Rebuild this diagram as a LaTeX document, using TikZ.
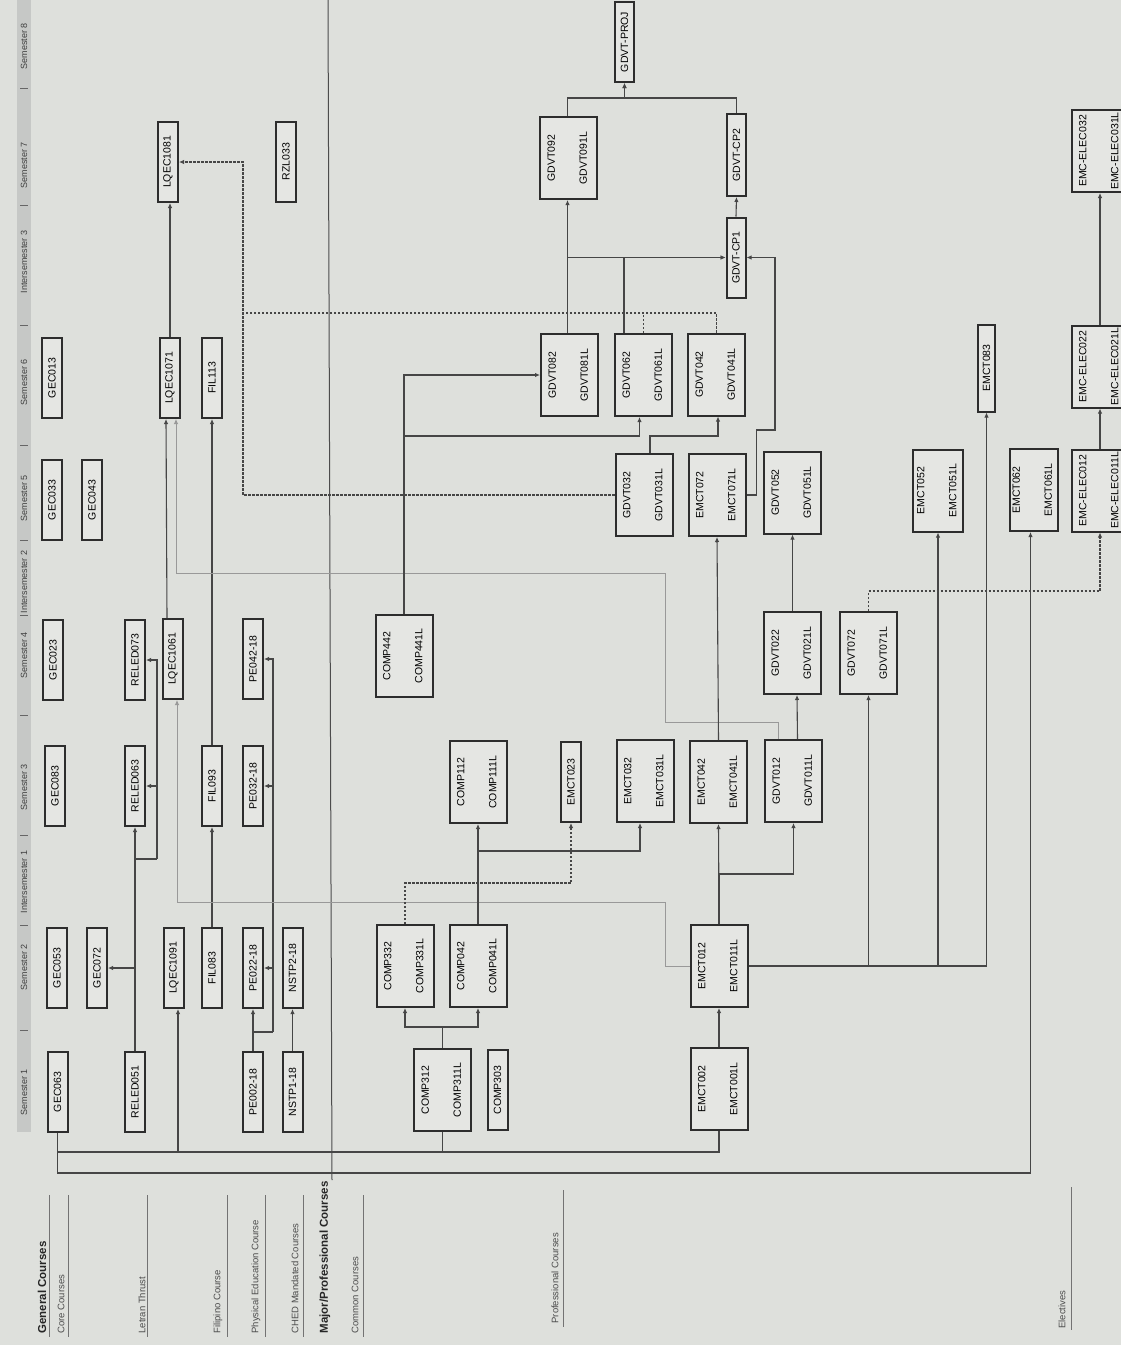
\documentclass[tikz,border=0pt]{standalone}
\usepackage{fontspec}
\setmainfont{Liberation Sans}
\usepackage{graphicx}
\usetikzlibrary{arrows.meta}

\definecolor{paper}{RGB}{222,224,220}
\definecolor{boxfill}{RGB}{229,230,227}
\definecolor{boxline}{RGB}{45,45,45}
\definecolor{wire}{RGB}{70,70,70}
\definecolor{band}{RGB}{198,200,198}

\newcommand{\onecode}[1]{\rotatebox{90}{#1}}
\newcommand{\twocode}[2]{\rotatebox{90}{\begin{tabular}{@{}c@{}}#1\\[20pt]#2\end{tabular}}}

\begin{document}
\begin{tikzpicture}[x=1pt, y=-1pt,
  course/.style={draw=boxline, line width=2pt, fill=boxfill, inner sep=0pt,
                 minimum width=20pt, minimum height=80pt,
                 font=\fontsize{10.5}{12}\selectfont},
  labcourse/.style={course, minimum width=57pt, minimum height=82pt},
  semlabel/.style={rotate=90, font=\fontsize{9}{10}\selectfont, text=black!75},
  catlabel/.style={rotate=90, anchor=west, font=\fontsize{9.5}{11}\selectfont, text=black!70},
  cathead/.style={catlabel, font=\bfseries\fontsize{11.5}{13}\selectfont, text=black!85},
  link/.style={draw=wire, line width=1.1pt},
  arr/.style={link, -{Latex[length=5pt,width=4.5pt]}},
  dasharr/.style={arr, dash pattern=on 2.5pt off 1.5pt},
  dashlink/.style={link, dash pattern=on 2.5pt off 1.5pt},
  faintarr/.style={arr, draw=wire!55, line width=0.8pt},
  rule/.style={draw=black!55, line width=0.8pt}
]
\fill[paper] (0,0) rectangle (1121,1345);
\useasboundingbox (0,0) rectangle (1121,1345);

% semester header
\fill[band] (17,0) rectangle (31,1132);
\node[semlabel] (hs1) at (24,1092) {Semester 1};
\node[semlabel] (hs2) at (24,967) {Semester 2};
\node[semlabel] (hi1) at (24,882) {Intersemester 1};
\node[semlabel] (hs3) at (24,787) {Semester 3};
\node[semlabel] (hs4) at (24,655) {Semester 4};
\node[semlabel] (hi2) at (24,582) {Intersemester 2};
\node[semlabel] (hs5) at (24,498) {Semester 5};
\node[semlabel] (hs6) at (24,382) {Semester 6};
\node[semlabel] (hi3) at (24,262) {Intersemester 3};
\node[semlabel] (hs7) at (24,165) {Semester 7};
\node[semlabel] (hs8) at (24,46) {Semester 8};
\foreach \y in {1030,925,835,715,615,540,445,325,205,88}
  \draw[black!60, line width=0.9pt] (20,\y) -- (28,\y);

% row labels
\node[cathead]  (lgen)  at (42,1337)  {General Courses};
\node[catlabel] (lcore) at (61,1337)  {Core Courses};
\node[catlabel] (llet)  at (142,1337) {Letran Thrust};
\node[catlabel] (lfil)  at (218,1337) {Filipino Course};
\node[catlabel] (lpe)   at (256,1337) {Physical Education Course};
\node[catlabel] (lched) at (295,1337) {CHED Mandated Courses};
\node[cathead]  (lmaj)  at (325,1337) {Major/Professional Courses};
\node[catlabel] (lcom)  at (355,1337) {Common Courses};
\node[catlabel] (lpro)  at (555,1327) {Professional Courses};
\node[catlabel] (lele)  at (1062,1332) {Electives};
\foreach \x in {49,68,147,227,265,303,363}
  \draw[rule] (\x,1195) -- (\x,1337);
\draw[rule] (563,1190) -- (563,1327);
\draw[rule] (1071,1187) -- (1071,1330);
\draw[black!70, line width=1pt] (328,0) -- (332,1180);

% general courses
\node[course] (gecA)   at (57.5,1092) {\onecode{GEC063}};
\node[course] (reledA) at (135,1092)  {\onecode{RELED051}};
\node[course] (pe002)  at (253,1092)  {\onecode{PE002-18}};
\node[course] (nstp1)  at (292.5,1092) {\onecode{NSTP1-18}};
\node[course] (gecB)   at (57,968)    {\onecode{GEC053}};
\node[course] (gecC)   at (97,968)    {\onecode{GEC072}};
\node[course] (lqecA)  at (174,968)   {\onecode{LQEC1091}};
\node[course] (filA)   at (212,968)   {\onecode{FIL083}};
\node[course] (pe022)  at (253,968)   {\onecode{PE022-18}};
\node[course] (nstp2)  at (292.5,968) {\onecode{NSTP2-18}};
\node[course] (gecD)   at (55,786)    {\onecode{GEC083}};
\node[course] (reledB) at (135,786)   {\onecode{RELED063}};
\node[course] (filB)   at (212,786)   {\onecode{FIL093}};
\node[course] (pe032)  at (253,786)   {\onecode{PE032-18}};
\node[course] (gecE)   at (53,660)    {\onecode{GEC023}};
\node[course] (reledC) at (135,660)   {\onecode{RELED073}};
\node[course] (lqecB)  at (173,659)   {\onecode{LQEC1061}};
\node[course] (pe042)  at (253,659)   {\onecode{PE042-18}};
\node[course] (gecF)   at (52,500)    {\onecode{GEC033}};
\node[course] (gecG)   at (92,500)    {\onecode{GEC043}};
\node[course] (gecH)   at (52,378)    {\onecode{GEC013}};
\node[course] (lqecC)  at (170,378)   {\onecode{LQEC1071}};
\node[course] (filC)   at (212,378)   {\onecode{FIL113}};
\node[course] (lqecD)  at (168,162)   {\onecode{LQEC1081}};
\node[course] (rzl)    at (286,161.5) {\onecode{RZL033}};

% common courses
\node[labcourse] (comp312) at (442.5,1090) {\twocode{COMP312}{COMP311L}};
\node[course]    (comp303) at (497.5,1090) {\onecode{COMP303}};
\node[labcourse] (comp332) at (405,966)    {\twocode{COMP332}{COMP331L}};
\node[labcourse] (comp042) at (478,966)    {\twocode{COMP042}{COMP041L}};
\node[labcourse] (comp112) at (478,782)    {\twocode{COMP112}{COMP111L}};
\node[course]    (emct023) at (571,782)    {\onecode{EMCT023}};
\node[labcourse] (comp442) at (404,656)    {\twocode{COMP442}{COMP441L}};

% professional courses
\node[labcourse] (emct002) at (719,1089)  {\twocode{EMCT002}{EMCT001L}};
\node[labcourse] (emct012) at (719,966)   {\twocode{EMCT012}{EMCT011L}};
\node[labcourse] (emct032) at (645,781)   {\twocode{EMCT032}{EMCT031L}};
\node[labcourse] (emct042) at (718.5,782) {\twocode{EMCT042}{EMCT041L}};
\node[labcourse] (gdvt012) at (793.5,781) {\twocode{GDVT012}{GDVT011L}};
\node[labcourse] (gdvt022) at (792.5,653) {\twocode{GDVT022}{GDVT021L}};
\node[labcourse] (gdvt072) at (868.5,653) {\twocode{GDVT072}{GDVT071L}};
\node[labcourse] (gdvt032) at (644,495)   {\twocode{GDVT032}{GDVT031L}};
\node[labcourse] (emct072) at (717,495)   {\twocode{EMCT072}{EMCT071L}};
\node[labcourse] (gdvt052) at (792.5,492.5) {\twocode{GDVT052}{GDVT051L}};
\node[labcourse, minimum width=50pt] (emct052) at (938,490.5)  {\twocode{EMCT052}{EMCT051L}};
\node[labcourse, minimum width=48pt] (emct062) at (1033.5,490) {\twocode{EMCT062}{EMCT061L}};
\node[labcourse] (gdvt082) at (569.5,375) {\twocode{GDVT082}{GDVT081L}};
\node[labcourse] (gdvt062) at (643.5,375) {\twocode{GDVT062}{GDVT061L}};
\node[labcourse] (gdvt042) at (716.5,374.5) {\twocode{GDVT042}{GDVT041L}};
\node[course, minimum width=17pt, minimum height=87pt] (emct083) at (986.5,368) {\onecode{EMCT083}};
\node[course, minimum width=19pt] (gdvtcp1) at (736,257.5) {\onecode{GDVT-CP1}};
\node[labcourse] (gdvt092) at (568.5,158) {\twocode{GDVT092}{GDVT091L}};
\node[course, minimum width=19pt, minimum height=82pt] (gdvtcp2) at (736.5,155) {\onecode{GDVT-CP2}};
\node[course, minimum width=19pt] (gdvtproj) at (624.5,42) {\onecode{GDVT-PROJ}};

% electives
\node[labcourse] (elec012) at (1100,490.5) {\twocode{EMC-ELEC012}{EMC-ELEC011L}};
\node[labcourse] (elec022) at (1100,366.5) {\twocode{EMC-ELEC022}{EMC-ELEC021L}};
\node[labcourse] (elec032) at (1100,151)   {\twocode{EMC-ELEC032}{EMC-ELEC031L}};

% general course links
\coordinate (gj) at (178,1152);
\draw[link] (gecA.south) |- (gj) -| (emct002.south);
\draw[link] (comp312.south) -- (comp312.south |- gj);
\draw[arr] (gj) -- ([xshift=4pt]lqecA.south);
\draw[arr] (gecA.south) -- ++(0,40) -| ([xshift=-3pt]emct062.south);

\coordinate (rj) at (157,859);
\draw[arr] (reledA.north) -- (reledB.south);
\draw[arr] (reledA.north |- gecC.east) -- (gecC.east);
\draw[link] (reledA.north |- rj) -- (rj);
\draw[arr] (rj) |- (reledB.east);
\draw[arr] (rj) |- (reledC.east);

\draw[arr] (filA.north) -- (filB.south);
\draw[arr] (filB.north) -- (filC.south);

\coordinate (pj) at (273,1032);
\draw[arr] (pe002.north) -- (pe022.south);
\draw[link] (pe002.north |- pj) -- (pj);
\draw[arr] (pj) |- (pe022.east);
\draw[arr] (pj) |- (pe032.east);
\draw[arr] (pj) |- (pe042.east);
\draw[arr] (nstp1.north) -- (nstp2.south);

\draw[arr] ([xshift=-6pt]lqecB.north) -- ([xshift=-4pt]lqecC.south);
\draw[arr] (lqecC.north) -- (lqecC.north |- lqecD.south);
\draw[faintarr] (emct012.west) -| (665,902) -| ([xshift=4pt]lqecB.south);
\draw[faintarr] ([xshift=-15pt]gdvt012.north) |- (665,722) |- (176,573)
  -- ([xshift=6pt]lqecC.south);

% common course links
\draw[arr] (comp312.north) -- ++(0,-21) -| (comp332.south);
\draw[arr] (comp312.north) -- ++(0,-21) -| (comp042.south);
\draw[arr] (comp042.north) -- (comp112.south);
\draw[arr] (comp042.north) -- ++(0,-73) -| ([xshift=-5pt]emct032.south);
\draw[dasharr] (comp332.north) -- ++(0,-41) -| (emct023.south);
\draw[arr] (comp442.north) |- (gdvt082.west);
\draw[arr] (comp442.north) -- ++(0,-178) -| ([xshift=-4pt]gdvt062.south);

% professional course links
\draw[arr] (emct002.north) -- (emct012.south);
\draw[arr] (emct012.north) -- (emct042.south);
\draw[arr] (emct012.north) -- ++(0,-50) -| (gdvt012.south);
\draw[arr] (emct042.north) -- (emct072.south);
\draw[arr] (emct012.east) -| (gdvt072.south);
\draw[arr] (emct012.east) -| (emct052.south);
\draw[arr] (emct012.east) -| (emct083.south);
\draw[arr] ([xshift=4pt]gdvt012.north) -- ([xshift=4.5pt]gdvt022.south);
\draw[arr] (gdvt022.north) -- (gdvt052.south);
\draw[arr] ([xshift=6pt]gdvt032.north) -- ++(0,-17) -| ([xshift=1.5pt]gdvt042.south);

\coordinate (dj) at (243,313);
\draw[dasharr] (gdvt032.west) -| (dj) |- (lqecD.east);
\draw[dashlink] (gdvt042.north) |- (dj);
\draw[dashlink] (gdvt062.north) -- (gdvt062.north |- dj);

\draw[arr] ([xshift=-2pt]gdvt082.north) -- ([xshift=-1pt]gdvt092.south);
\draw[arr] ([xshift=-2pt]gdvt082.north) |- (gdvtcp1.west);
\draw[arr] ([xshift=-19.5pt]gdvt062.north) |- (gdvtcp1.west);
\draw[arr] (emct072.east) -- ++(10,0) |- (775,430) |- (gdvtcp1.east);
\draw[arr] (gdvtcp1.north) -- (gdvtcp2.south);
\draw[arr] ([xshift=-1pt]gdvt092.north) -- ++(0,-18) -| (gdvtproj.south);
\draw[arr] (gdvtcp2.north) -- ++(0,-15) -| (gdvtproj.south);

% elective links
\draw[dasharr] (gdvt072.north) -- ++(0,-20) -| (elec012.south);
\draw[arr] (elec012.north) -- (elec022.south);
\draw[arr] (elec022.north) -- (elec032.south);
\end{tikzpicture}
\end{document}
